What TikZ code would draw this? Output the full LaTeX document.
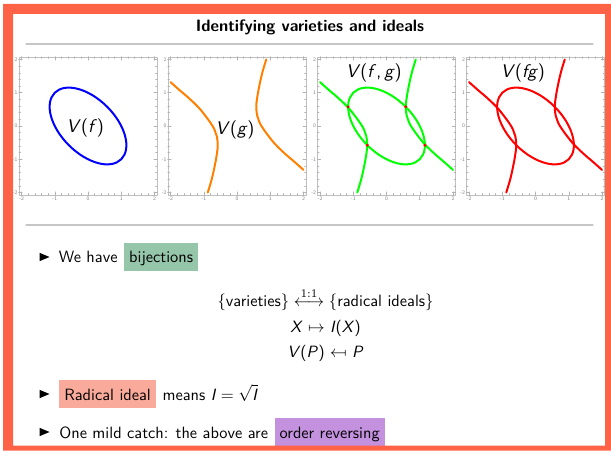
\documentclass[tikz,border=0pt]{standalone}
\usepackage{amsmath}
\usepackage{graphicx}
\renewcommand{\familydefault}{\sfdefault}
\definecolor{framered}{RGB}{255,99,71}
\definecolor{hlgreen}{RGB}{150,198,170}
\definecolor{hlred}{RGB}{250,170,155}
\definecolor{hlviolet}{RGB}{196,145,222}
\definecolor{mmaorange}{RGB}{255,128,0}
\newcommand{\mv}[1]{\textit{#1\/}}
\newcommand{\gbranch}{plot[smooth, tension=.7] coordinates {(.88,2) (.76,1.6) (.66,1.15) (.6,.8) (.58,.55) (.61,.3) (.68,.1) (.8,-.1) (.97,-.33) (1.16,-.56) (1.45,-.84) (1.73,-1.08) (2,-1.32)}}

\begin{document}
\begin{tikzpicture}[x=.6pt, y=.6pt, line cap=round, line join=round, every node/.style={font=\fontsize{9.8}{11.5}\selectfont}]
  \tikzset{curve/.style={line width=1.2pt}, panel/.style={draw=gray!50, line width=.35pt},
    tick/.style={draw=gray!60, line width=.3pt}, ticklabel/.style={font=\fontsize{3.2}{3.5}\selectfont, text=gray, inner sep=.6pt},
    curvelabel/.style={font=\fontsize{11}{13}\selectfont},
    hl/.style={anchor=base west, inner xsep=3pt, inner ysep=0pt, text height=12pt, text depth=4.8pt},
    plain/.style={anchor=base west, inner sep=0pt}, rulestyle/.style={draw=gray!45, line width=.7pt}}
  \useasboundingbox (0,0) rectangle (611,451);

  % title
  \node[font=\fontsize{9.9}{12}\selectfont\bfseries] (title) at (310,424) {Identifying varieties and ideals};
  \draw[rulestyle] (26,407) -- (593,407);
  \draw[rulestyle] (26,226) -- (593,226);

  % frames of the four plots
  \foreach \cx [count=\p] in {88,237,386.5,535.5} {
    \begin{scope}[shift={(\cx,325)}, x=19.95pt, y=19.95pt]
      \draw[panel] (-2.08,-2.08) rectangle (2.08,2.08);
      \foreach \t in {-2,-1.8,...,2.01} {
        \draw[tick] (\t,-2.08) -- ++(0,.05) (\t,2.08) -- ++(0,-.05);
        \draw[tick] (-2.08,\t) -- ++(.05,0) (2.08,\t) -- ++(-.05,0);
      }
      \foreach \t [count=\k] in {-2,...,2} {
        \draw[tick] (\t,-2.08) -- ++(0,.1) (\t,2.08) -- ++(0,-.1);
        \draw[tick] (-2.08,\t) -- ++(.1,0) (2.08,\t) -- ++(-.1,0);
        \node[ticklabel, below] (xt\p\k) at (\t,-2.08) {\t};
        \node[ticklabel, left] (yt\p\k) at (-2.08,\t) {\t};
      }
    \end{scope}
  }

  % V(f)
  \begin{scope}[shift={(88,325)}, x=19.95pt, y=19.95pt]
    \draw[curve, blue, rotate=-45] (0,0) ellipse [x radius=1.414, y radius=.816];
    \node[curvelabel] (vf) at (-.08,-.06) {\mv{V}(\mv{f})};
  \end{scope}

  % V(g)
  \begin{scope}[shift={(237,325)}, x=19.95pt, y=19.95pt]
    \draw[curve, mmaorange] \gbranch;
    \draw[curve, mmaorange, rotate=180] \gbranch;
    \node[curvelabel] (vg) at (-.06,-.12) {\mv{V}(\mv{g})};
  \end{scope}

  % V(f,g)
  \begin{scope}[shift={(386.5,325)}, x=19.95pt, y=19.95pt]
    \draw[curve, green, rotate=-45] (0,0) ellipse [x radius=1.414, y radius=.816];
    \draw[curve, green] \gbranch;
    \draw[curve, green, rotate=180] \gbranch;
    \foreach \x/\y in {.577/.577,1.155/-.577,-.577/-.577,-1.155/.577}
      \fill[red] (\x,\y) circle [radius=.05];
    \node[curvelabel] (vfg) at (-.38,1.6) {\mv{V}(\mv{f},\,\mv{g})};
  \end{scope}

  % V(fg)
  \begin{scope}[shift={(535.5,325)}, x=19.95pt, y=19.95pt]
    \draw[curve, red, rotate=-45] (0,0) ellipse [x radius=1.414, y radius=.816];
    \draw[curve, red] \gbranch;
    \draw[curve, red, rotate=180] \gbranch;
    \node[curvelabel] (vprod) at (-.38,1.6) {\mv{V}(\mv{fg})};
  \end{scope}

  % bullets
  \foreach \y in {194,57,19}
    \fill (39.5,\y-4.2) -- (39.5,\y+4.2) -- (49.5,\y) -- cycle;

  \node[plain] (have) at (58.5,188) {We have};
  \node[hl, fill=hlgreen, xshift=3.6pt] (bij) at (have.base east) {bijections};

  \node[anchor=base] (corr) at (325.5,144) {$\{\text{varieties}\}\overset{1:1}{\longleftrightarrow}\{\text{radical ideals}\}$};
  \node[anchor=base] (fwd) at (325.5,118) {\mv{X} $\mapsto$ \mv{I}(\mv{X})};
  \node[anchor=base] (bwd) at (325.5,93) {\mv{V}(\mv{P}) $\mathrel{\reflectbox{$\mapsto$}}$ \mv{P}};

  \node[hl, fill=hlred] (rad) at (59,51) {Radical ideal};
  \node[plain, xshift=3.6pt] (means) at (rad.base east) {means $\mv{I}=\sqrt{\mv{I}}$};

  \node[plain] (catch) at (59,13) {One mild catch: the above are};
  \node[hl, fill=hlviolet, xshift=3.6pt] (rev) at (catch.base east) {order reversing};

  % frame
  \fill[framered, even odd rule] (3,.5) rectangle (611,447) (13,5.5) rectangle (605,437);
\end{tikzpicture}
\end{document}
